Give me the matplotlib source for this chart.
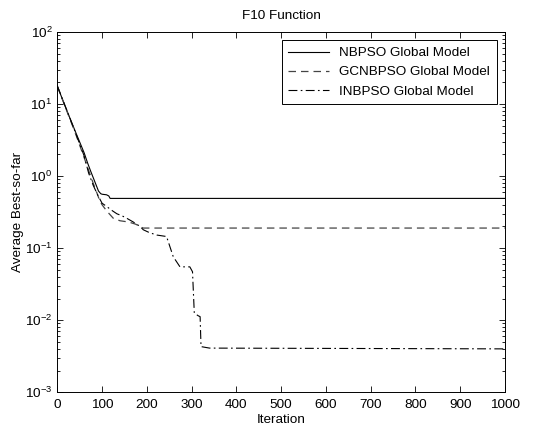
import matplotlib
matplotlib.use("Agg")
import matplotlib.pyplot as plt
from matplotlib.ticker import LogLocator, NullFormatter

# (iteration, average best-so-far)
nb_iter = [0, 20, 40, 60, 68, 75, 85, 92, 97, 100, 110, 115, 118, 1000]
nb_val = [17.8, 8.5, 4.2, 2.1, 1.5, 1.15, 0.8, 0.62, 0.57, 0.56, 0.55, 0.53, 0.49, 0.49]

gc_iter = [0, 20, 40, 60, 70, 80, 90, 95, 100, 110, 125, 140, 160, 175, 185, 192, 1000]
gc_val = [17.8, 8.4, 4.0, 1.8, 1.2, 0.8, 0.55, 0.45, 0.40, 0.33, 0.26, 0.24, 0.23, 0.215, 0.20, 0.19, 0.19]

in_iter = [0, 20, 40, 60, 70, 80, 90, 100, 110, 120, 133, 145, 155, 170, 185, 192,
           205, 222, 244, 259, 274, 296, 302, 306, 315, 319, 321, 340, 1000]
in_val = [17.8, 8.6, 4.1, 1.9, 1.1, 0.75, 0.55, 0.42, 0.38, 0.34, 0.30, 0.28, 0.26,
          0.23, 0.20, 0.18, 0.165, 0.152, 0.145, 0.076, 0.055, 0.055, 0.047, 0.0125,
          0.0115, 0.0112, 0.0043, 0.0041, 0.0040]

plt.rcParams["font.family"] = ["Liberation Sans", "DejaVu Sans"]
FS = 9.7

fig = plt.figure(figsize=(5.33, 4.32), dpi=100, facecolor="white")
ax = fig.add_axes([0.1075, 0.092, 0.84, 0.834])

ax.plot(nb_iter, nb_val, color="black", linewidth=0.8, linestyle="-",
        label="NBPSO Global Model")
ax.plot(gc_iter, gc_val, color="#444444", linewidth=0.9, linestyle=(0, (6, 4)),
        label="GCNBPSO Global Model")
ax.plot(in_iter, in_val, color="black", linewidth=0.8, linestyle=(0, (8, 3, 1.5, 3)),
        label="INBPSO Global Model")

ax.set_yscale("log")
ax.set_xlim(0, 1000)
ax.set_ylim(1e-3, 1e2)
ax.set_xticks(range(0, 1001, 100))
ax.yaxis.set_minor_locator(LogLocator(base=10, subs=range(2, 10), numticks=20))
ax.yaxis.set_minor_formatter(NullFormatter())

ax.tick_params(which="both", direction="in", top=True, right=True,
               labelsize=FS, width=0.6)
ax.tick_params(which="major", length=4)
ax.tick_params(which="minor", length=2)
ax.tick_params(axis="x", pad=5)
for s in ax.spines.values():
    s.set_linewidth(0.7)

ax.set_title("F10 Function", fontsize=FS, pad=9)
ax.set_xlabel("Iteration", fontsize=FS, labelpad=2)
ax.set_ylabel("Average Best-so-far", fontsize=FS, labelpad=1)

leg = ax.legend(loc="upper right", fontsize=FS, fancybox=False, framealpha=1,
                edgecolor="black", handlelength=3.0, borderaxespad=0.6,
                labelspacing=0.5, borderpad=0.5)
leg.get_frame().set_linewidth(0.7)

fig.savefig("out.png", dpi=100, facecolor="white")
